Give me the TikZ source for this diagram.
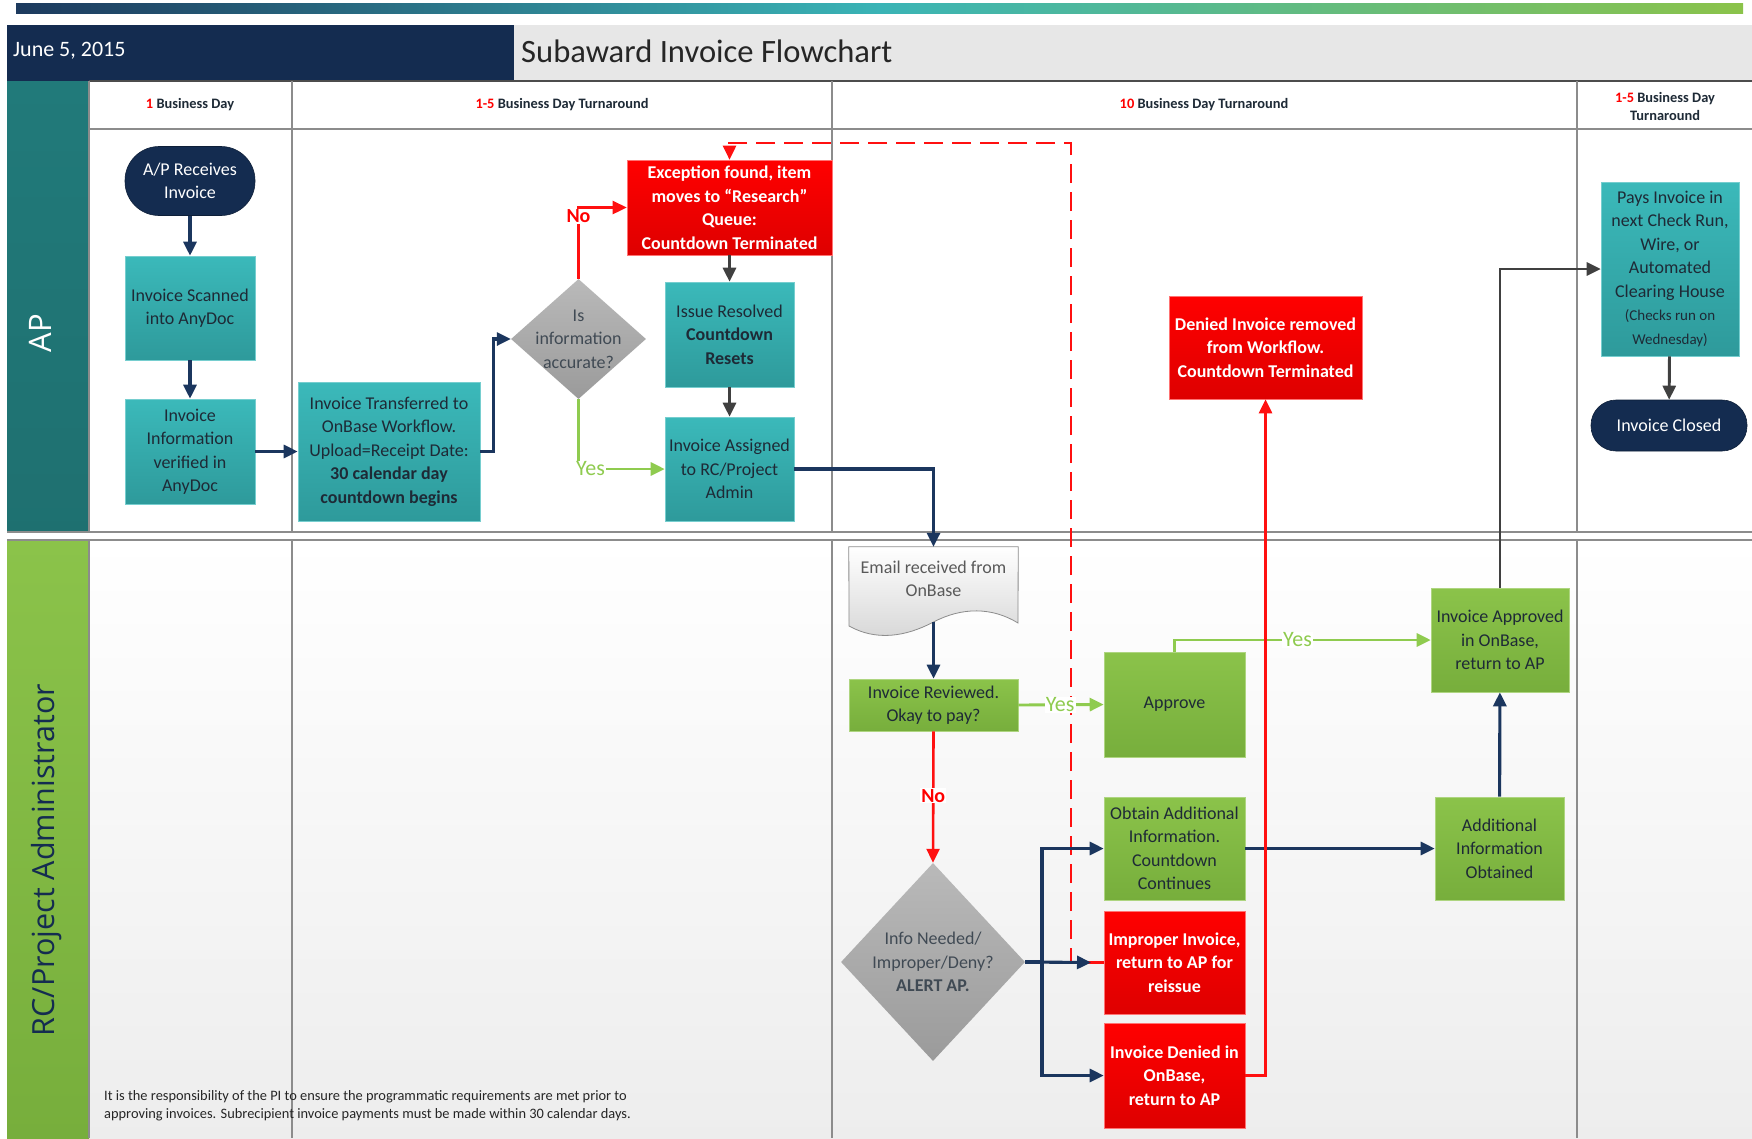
\documentclass[tikz,border=0pt]{standalone}
\usepackage{fontspec}
\setmainfont{Carlito}
\newfontfamily\lanefont{Open Sans}
\usetikzlibrary{arrows.meta,shapes.geometric,calc}
\definecolor{navy}{HTML}{142C50}
\definecolor{navyline}{HTML}{1B365E}
\definecolor{tealtop}{HTML}{3BB9BA}
\definecolor{tealbot}{HTML}{2E9A9B}
\definecolor{tealbar}{HTML}{217A7A}
\definecolor{redtop}{HTML}{FF0000}
\definecolor{redbot}{HTML}{DE0000}
\definecolor{greentop}{HTML}{8BC34A}
\definecolor{greenbot}{HTML}{77AE3C}
\definecolor{linegreen}{HTML}{8FCB4F}
\definecolor{linered}{HTML}{FF1010}
\definecolor{grayarrow}{HTML}{404040}
\definecolor{diagray}{HTML}{A8A8A8}
\definecolor{gridline}{HTML}{8C8C8C}
\definecolor{titlegray}{HTML}{E7E7E7}
\definecolor{textdark}{HTML}{1E2A36}
\definecolor{barnavy}{HTML}{1D3A5E}
\definecolor{barteal}{HTML}{3AB4B6}
\definecolor{bargreen}{HTML}{8BC34A}
\begin{document}
\begin{tikzpicture}[x=1pt,y=-1pt,
  every node/.style={inner sep=2pt, align=center},
  boxfont/.style={font=\fontsize{18}{23.5}\selectfont},
  tealbox/.style={boxfont, rectangle, top color=tealtop, bottom color=tealbot, draw=tealtop!70!white, line width=0.6pt, text=textdark},
  redbox/.style={rectangle, top color=redtop, bottom color=redbot, draw=red!55!white, line width=0.6pt, text=white, font=\fontsize{18}{23.5}\selectfont\bfseries},
  greenbox/.style={boxfont, rectangle, top color=greentop, bottom color=greenbot, draw=greentop!70!white, line width=0.6pt, text=textdark},
  termbox/.style={boxfont, rectangle, fill=navy, text=white, draw=navy!70!black, line width=0.6pt},
  diabox/.style={diamond, inner sep=0pt, top color=diagray!80!white, bottom color=diagray!92!black, draw=none},
  diatext/.style={boxfont, text=textdark!85!white},
  colhead/.style={font=\fontsize{14.4}{18}\selectfont\bfseries, text=textdark},
  tip/.style={-{Triangle[length=14pt,width=13pt]}},
  navyarrow/.style={tip, draw=navyline, line width=3.1pt},
  grayarr/.style={tip, draw=grayarrow, line width=2.9pt},
  redarrow/.style={tip, draw=linered, line width=2.6pt},
  greenarrow/.style={tip, draw=linegreen, line width=2.9pt},
  reddash/.style={tip, draw=linered, line width=2.6pt, dash pattern=on 19pt off 9pt},
  lbl/.style={fill=white, inner sep=1pt, font=\fontsize{22}{24}\selectfont},
  nolbl/.style={fill=white, inner sep=1pt, text=red, font=\fontsize{20}{22}\selectfont\bfseries},
  grid/.style={draw=gridline, line width=1.1pt}
]
\useasboundingbox (0,0) rectangle (1752,1138);
\fill[white] (0,0) rectangle (1752,1138);
% top gradient bar
\shade[left color=barnavy, right color=barteal] (16,3) rectangle (880,13);
\shade[left color=barteal, right color=bargreen] (879.5,3) rectangle (1743,13);
% header
\fill[navy] (7,25) rectangle (514,81);
\fill[titlegray] (514,25) rectangle (1752,81);
\node[anchor=west, text=white, font=\fontsize{22}{24}\selectfont] (date) at (11,51) {June 5, 2015};
\node[anchor=west, text=black!85, font=\fontsize{32.6}{36}\selectfont] (title) at (519,51) {Subaward Invoice Flowchart};
% lanes backgrounds
\fill[white] (89,81) rectangle (1752,532);
\shade[top color=white, bottom color=black!7] (89,540) rectangle (1752,1138);
\shade[top color=tealbar, bottom color=tealbar!92!black] (7,81) rectangle (89,532);
\shade[top color=greentop, bottom color=greenbot] (7,540) rectangle (89,1138);
% grid lines
\draw[grid, draw=black!70] (89,81) -- (1752,81);
\draw[grid] (89,129) -- (1752,129);
\draw[grid] (7,532) -- (1752,532);
\draw[grid] (7,540) -- (1752,540);
\draw[grid] (89,81) -- (89,532);
\draw[grid] (89,540) -- (89,1138);
\draw[grid] (292,81) -- (292,532);
\draw[grid] (292,540) -- (292,1138);
\draw[grid] (832,81) -- (832,532);
\draw[grid] (832,540) -- (832,1138);
\draw[grid] (1577,81) -- (1577,532);
\draw[grid] (1577,540) -- (1577,1138);
% lane labels
\node[rotate=90, text=white, font=\lanefont\fontsize{31}{34}\selectfont] (aplane) at (40,333) {AP};
\node[rotate=90, text=navy, font=\lanefont\fontsize{30.5}{33}\selectfont] (rclane) at (47,860) {RC/Project Administrator};
% column headers
\node[colhead] (h1) at (190,105) {\textcolor{red}{1} Business Day};
\node[colhead] (h2) at (562,105) {\textcolor{red}{1-5} Business Day Turnaround};
\node[colhead] (h3) at (1204,105) {\textcolor{red}{10} Business Day Turnaround};
\node[colhead] (h4) at (1665,106) {\textcolor{red}{1-5} Business Day\\Turnaround};
% AP nodes
\node[termbox, rounded corners=34pt, minimum width=130pt, minimum height=69pt] (apr) at (190,181) {A/P Receives\\Invoice};
\node[tealbox, minimum width=130pt, minimum height=104pt] (scan) at (190,308) {Invoice Scanned\\into AnyDoc};
\node[tealbox, minimum width=130pt, minimum height=105pt] (verif) at (190,451.5) {Invoice\\Information\\verified in\\AnyDoc};
\node[tealbox, minimum width=182pt, minimum height=139pt] (transf) at (389,451.5) {Invoice Transferred to\\OnBase Workflow.\\Upload=Receipt Date:\\\textbf{30 calendar day}\\\textbf{countdown begins}};
\node[diabox, minimum width=135pt, minimum height=120pt] (d1) at (578.5,339) {};
\node[diatext] (d1t) at (578.5,339) {Is\\information\\accurate?};
\node[redbox, minimum width=205pt, minimum height=95pt] (exc) at (729.5,207.5) {Exception found, item\\moves to “Research”\\Queue:\\Countdown Terminated};
\node[tealbox, minimum width=129pt, minimum height=105pt] (issue) at (729.5,334.5) {Issue Resolved\\\textbf{Countdown}\\\textbf{Resets}};
\node[tealbox, minimum width=129pt, minimum height=104pt] (assign) at (729.5,469) {Invoice Assigned\\to RC/Project\\Admin};
\node[redbox, minimum width=193pt, minimum height=103pt] (denrem) at (1265.5,347.5) {Denied Invoice removed\\from Workflow.\\Countdown Terminated};
\node[tealbox, minimum width=138pt, minimum height=174pt] (pays) at (1670,269) {Pays Invoice in\\next Check Run,\\Wire, or\\Automated\\Clearing House\\{\fontsize{15}{20}\selectfont (Checks run on}\\{\fontsize{15}{20}\selectfont Wednesday)}};
\node[termbox, rounded corners=25pt, minimum width=156pt, minimum height=51pt] (closed) at (1669,425.5) {Invoice Closed};
% RC nodes
\node[minimum width=169pt, minimum height=90pt, inner sep=0pt] (email) at (933.5,592) {};
\shade[top color=white, bottom color=black!16, draw=black!45, line width=0.8pt]
  (email.north west) -- (email.north east) -- (1018,623)
  .. controls (992,607) and (962,607) .. (933.5,622)
  .. controls (905,637) and (876,641) .. (849,626) -- cycle;
\coordinate (emailbot) at (933.5,622);
\node[boxfont, text=black!65] (emailt) at (933.5,579) {Email received from\\OnBase};
\node[greenbox, minimum width=169pt, minimum height=52pt] (review) at (933.5,705) {Invoice Reviewed.\\Okay to pay?};
\node[greenbox, minimum width=141pt, minimum height=105pt] (approve) at (1174.5,704.5) {Approve};
\node[greenbox, minimum width=141pt, minimum height=103pt] (obtain) at (1174.5,848.5) {Obtain Additional\\Information.\\Countdown\\Continues};
\node[redbox, minimum width=141pt, minimum height=103pt] (improper) at (1174.5,962.5) {Improper Invoice,\\return to AP for\\reissue};
\node[redbox, minimum width=141pt, minimum height=105pt] (denied) at (1174.5,1075.5) {Invoice Denied in\\OnBase,\\return to AP};
\node[diabox, minimum width=184pt, minimum height=198pt] (d2) at (933,962) {};
\node[diatext] (d2t) at (933,962) {Info Needed/\\Improper/Deny?\\\textbf{ALERT AP.}};
\node[greenbox, minimum width=138pt, minimum height=104pt] (approved) at (1500,640) {Invoice Approved\\in OnBase,\\return to AP};
\node[greenbox, minimum width=129pt, minimum height=103pt] (addinfo) at (1499.5,848.5) {Additional\\Information\\Obtained};
% footnote
\node[anchor=west, align=left, text=black!85, font=\fontsize{14.4}{18}\selectfont] (note) at (102,1106) {It is the responsibility of the PI to ensure the programmatic requirements are met prior to\\approving invoices. Subrecipient invoice payments must be made within 30 calendar days.};
% connectors AP
\draw[navyarrow] (apr) -- (scan);
\draw[navyarrow] (scan) -- (verif);
\draw[navyarrow] (verif) -- (transf);
\draw[navyarrow] (transf.east) -- ++(13,0) |- (d1.west);
\draw[redarrow] (d1.north) |- node[pos=0.44, nolbl] {No} (exc.west);
\draw[greenarrow] (d1.south) |- node[pos=0.57, lbl, text=linegreen] {Yes} (assign.west);
\draw[grayarr] (exc) -- (issue);
\draw[grayarr] (issue) -- (assign);
% dashed return
\coordinate (dashlow) at (1071,962.5);
\coordinate (dashtop) at (1071,143);
\draw[reddash] (improper.west) -- (dashlow) -- (dashtop) -| (exc.north);
% RC connectors
\draw[navyarrow] (assign.east) -| (email.north);
\draw[navyarrow] (emailbot) -- (review.north);
\draw[greenarrow] (review.east) -- node[pos=0.49, lbl, text=linegreen] {Yes} (approve.west);
\draw[redarrow] (review.south) -- node[pos=0.49, nolbl] {No} (d2.north);
\coordinate (br) at (1042,962);
\coordinate (impin) at (1091,962.5);
\draw[navyline, line width=3.1pt] (d2.east) -- (br);
\draw[navyarrow] (br) |- (obtain.west);
\draw[navyarrow] (br) |- (denied.west);
\draw[navyarrow] (d2.east) -- (impin);
\draw[greenarrow] (approve.north) |- node[pos=0.74, lbl, text=linegreen] {Yes} (approved.west);
\draw[navyarrow] (obtain) -- (addinfo);
\draw[navyarrow] (addinfo) -- (approved);
\draw[redarrow] (denied.east) -| (denrem.south);
\draw[grayarr] (approved.north) |- (pays.west);
\draw[grayarr] (pays) -- (closed);
\end{tikzpicture}
\end{document}
